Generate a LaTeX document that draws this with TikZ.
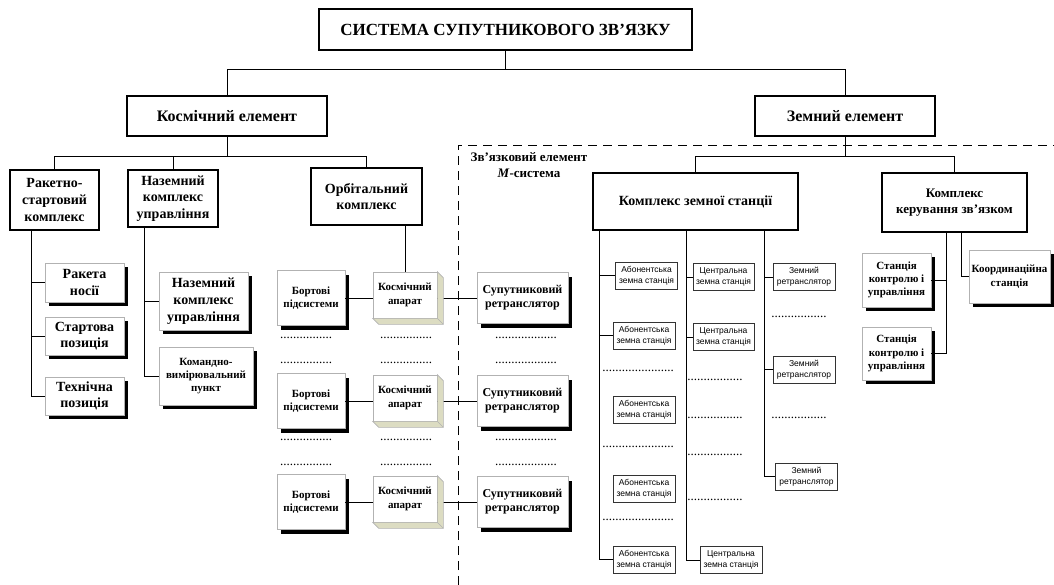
\documentclass[tikz,border=0pt]{standalone}
\usepackage{fontspec}
\setmainfont{Liberation Serif}
\newfontfamily\arialfont{Liberation Sans}
\usetikzlibrary{shadows,calc}

\definecolor{cubeside}{HTML}{DCDCC2}

\tikzset{
  link/.style={line width=1pt},
  topbox/.style={draw, line width=1.1pt, fill=white, inner sep=0pt, align=center,
    font=\bfseries\fontsize{17}{20}\selectfont},
  elbox/.style={draw, line width=1.1pt, inner sep=0pt, align=center,
    font=\bfseries\fontsize{16}{19}\selectfont},
  cplxbox/.style={draw, line width=1.1pt, inner sep=0pt, align=center,
    font=\bfseries\fontsize{14}{16.7}\selectfont},
  shadbox/.style={draw=gray!60, line width=0.6pt, fill=white, inner sep=0pt, align=center,
    drop shadow={shadow xshift=4pt, shadow yshift=-4pt, fill=black, opacity=1},
    font=\bfseries\fontsize{14}{16.7}\selectfont},
  smallshad/.style={shadbox, font=\bfseries\fontsize{11}{13.3}\selectfont},
  cubebox/.style={draw=gray!60, line width=0.6pt, fill=white, inner sep=0pt, align=center,
    minimum width=64pt, minimum height=46pt, font=\bfseries\fontsize{11}{13.3}\selectfont},
  stbox/.style={draw=black!80, line width=0.8pt, fill=white, inner sep=0pt, align=center,
    minimum width=62pt, minimum height=27pt, font=\arialfont\fontsize{8.5}{10.7}\selectfont},
  dotrow/.style={inner sep=0pt, font=\fontsize{13}{14}\selectfont}
}

\begin{document}
\begin{tikzpicture}[x=1pt, y=-1pt]
    \useasboundingbox (0,0) rectangle (1054,585);

    % Top level
    \node[topbox, minimum width=373pt, minimum height=41pt] (sys) at (505.5,29.5) {СИСТЕМА СУПУТНИКОВОГО ЗВ’ЯЗКУ};
    \node[elbox, minimum width=200pt, minimum height=40pt] (space) at (227,116) {Космічний елемент};
    \node[elbox, minimum width=180pt, minimum height=40pt] (ground) at (845,116) {Земний елемент};

    \draw[link] (sys.south) -- ++(0,19) coordinate (sysb);
    \draw[link] (space.north) |- (sysb) -| (ground.north);

    % Space element
    \node[cplxbox, minimum width=89pt, minimum height=60pt] (launch) at (54.5,200) {Ракетно-\\стартовий\\комплекс};
    \node[cplxbox, minimum width=90pt, minimum height=57pt] (gcc) at (173,198.5) {Наземний\\комплекс\\управління};
    \node[cplxbox, minimum width=111pt, minimum height=57pt] (orbit) at (366.5,196.5) {Орбітальний\\комплекс};

    \draw[link] (space.south) -- ++(0,20) coordinate (spb);
    \draw[link] (launch.north) |- (spb) -| (orbit.north);
    \draw[link] (gcc.north) -- (gcc.north |- spb);

    % Launch complex
    \node[shadbox, minimum width=79pt, minimum height=39pt] (rocket) at (84.5,282.5) {Ракета\\носії};
    \node[shadbox, minimum width=79pt, minimum height=38pt] (pad) at (84.5,336) {Стартова\\позиція};
    \node[shadbox, minimum width=79pt, minimum height=38pt] (tpos) at (84.5,396) {Технічна\\позиція};

    \coordinate (lt) at ([xshift=-23.5pt]launch.south);
    \draw[link] (lt) |- (tpos.west);
    \draw[link] (rocket.west) -- (rocket.west -| lt);
    \draw[link] (pad.west) -- (pad.west -| lt);

    % Ground control complex
    \node[shadbox, minimum width=89pt, minimum height=58pt] (gcc2) at (203.5,301) {Наземний\\комплекс\\управління};
    \node[smallshad, minimum width=94pt, minimum height=58pt] (cmp) at (206,376) {Командно-\\вимірювальний\\пункт};

    \coordinate (gt) at ([xshift=-29pt]gcc.south);
    \draw[link] (gt) |- (cmp.west);
    \draw[link] (gcc2.west) -- (gcc2.west -| gt);

    % Orbital complex
    \foreach \r/\y in {1/298,2/401,3/502} {
        \node[smallshad, minimum width=68pt, minimum height=55pt] (board\r) at (311,\y) {Бортові\\підсистеми};
        \node[cubebox] (sat\r) at (405,\y-3) {Космічний\\апарат};
        \node[smallshad, font=\bfseries\fontsize{12}{14}\selectfont, minimum width=91pt, minimum height=51pt] (relay\r) at (522.5,\y) {Супутниковий\\ретранслятор};
        \draw[link] (board\r.east) -- (board\r.east -| sat\r.west);
        \draw[link] (relay\r.west) -- (relay\r.west -| sat\r.east);
        \filldraw[draw=gray!60, fill=cubeside, line width=0.6pt] (sat\r.north east) -- ++(6,6) -- ($(sat\r.south east)+(6,6)$)
            -- ($(sat\r.south west)+(6,6)$) -- (sat\r.south west) -- (sat\r.south east) -- cycle;
        \draw[gray!60, line width=0.6pt] (sat\r.south east) -- ++(6,6);
    }
    \draw[link] (sat1.north) -- (sat1.north |- orbit.south);

    \foreach \y in {338,363,440,465} {
        \node[dotrow] (bd\y) at (306,\y) {................};
        \node[dotrow] (sd\y) at (406,\y) {................};
        \node[dotrow] (rd\y) at (526,\y) {...................};
    }

    % Link element (dashed border)
    \draw[dashed, dash pattern=on 9pt off 6pt, line width=0.9pt] (458,585) -- (458,145) -- (1054,145);
    \node[font=\bfseries\fontsize{13}{15.5}\selectfont, align=center] (linkel) at (529,165) {Зв’язковий елемент\\\textit{M}-система};

    % Ground element
    \node[cplxbox, minimum width=205pt, minimum height=57pt] (es) at (695.5,201.5) {Комплекс земної станції};
    \node[cplxbox, font=\bfseries\fontsize{13}{16}\selectfont, minimum width=145pt, minimum height=59pt] (ctrl) at (954.5,202.5) {Комплекс\\керування зв’язком};

    \draw[link] (ground.south) -- ++(0,20) coordinate (grb);
    \draw[link] (es.north) |- (grb) -| (ctrl.north);

    % Earth station complex
    \node[stbox] (ab1) at (646.5,275.5) {Абонентська\\земна станція};
    \node[stbox] (ab2) at (644,335.5) {Абонентська\\земна станція};
    \node[stbox] (ab3) at (644,409.5) {Абонентська\\земна станція};
    \node[stbox] (ab4) at (644,488.5) {Абонентська\\земна станція};
    \node[stbox] (ab5) at (644,559.5) {Абонентська\\земна станція};
    \node[stbox, minimum width=61pt] (cs1) at (723.5,277) {Центральна\\земна станція};
    \node[stbox, minimum width=61pt] (cs2) at (723.5,337) {Центральна\\земна станція};
    \node[stbox] (cs3) at (731,560) {Центральна\\земна станція};
    \node[stbox] (gr1) at (804,277) {Земний\\ретранслятор};
    \node[stbox] (gr2) at (804,369.5) {Земний\\ретранслятор};
    \node[stbox] (gr3) at (806.5,476.5) {Земний\\ретранслятор};

    \coordinate (esA) at ([xshift=-96.5pt]es.south);
    \coordinate (esC) at ([xshift=-9.5pt]es.south);
    \coordinate (esG) at ([xshift=68.5pt]es.south);
    \draw[link] (esA) |- (ab5.west);
    \draw[link] (ab1.west) -- (ab1.west -| esA);
    \draw[link] (ab2.west) -- (ab2.west -| esA);
    \draw[link] (esC) |- (cs3.west);
    \draw[link] (cs1.west) -- (cs1.west -| esC);
    \draw[link] (cs2.west) -- (cs2.west -| esC);
    \draw[link] (esG) |- (gr3.west);
    \draw[link] (gr1.west) -- (gr1.west -| esG);
    \draw[link] (gr2.west) -- (gr2.west -| esG);

    \foreach \y in {371,447,520}
        \node[dotrow] (ad\y) at (638,\y) {......................};
    \foreach \y in {380,418,455,500}
        \node[dotrow] (cd\y) at (715,\y) {.................};
    \foreach \y in {317,418}
        \node[dotrow] (gd\y) at (799,\y) {.................};

    % Communication control complex
    \node[smallshad, minimum width=69pt, minimum height=54pt] (sku1) at (896.5,280) {Станція\\контролю і\\управління};
    \node[smallshad, minimum width=69pt, minimum height=53pt] (sku2) at (896.5,353.5) {Станція\\контролю і\\управління};
    \node[smallshad, minimum width=81pt, minimum height=53pt] (coord) at (1009.5,276.5) {Координаційна\\станція};

    \coordinate (ctA) at ([xshift=-8.5pt]ctrl.south);
    \coordinate (ctB) at ([xshift=6.5pt]ctrl.south);
    \draw[link] (ctA) |- (sku2.east);
    \draw[link] (sku1.east) -- (sku1.east -| ctA);
    \draw[link] (ctB) |- (coord.west);

\end{tikzpicture}
\end{document}
